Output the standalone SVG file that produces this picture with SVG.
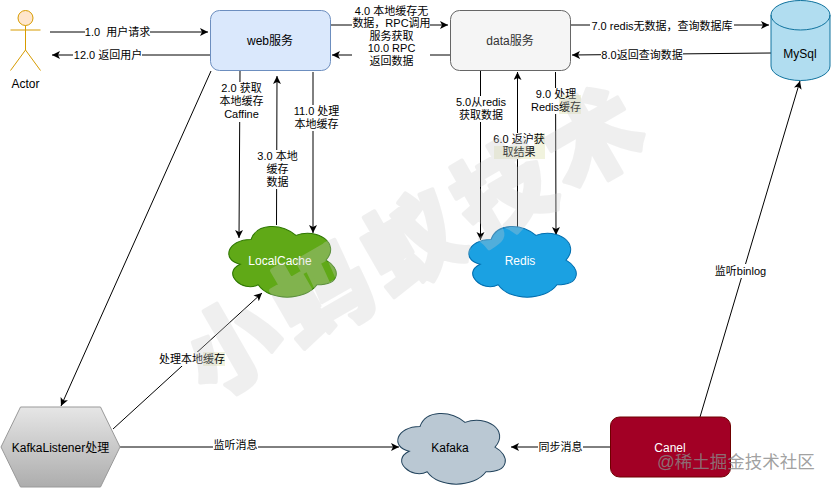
<svg xmlns="http://www.w3.org/2000/svg" width="831" height="488" viewBox="0 0 831 488">
<style>
text{font-family:"Liberation Sans","Noto Sans CJK SC",sans-serif;text-anchor:middle;font-size:11px;fill:#000}
.n{font-size:12px}
.w{fill:#fff}
.e{fill:none;stroke:#000;stroke-width:1;marker-end:url(#a)}
.bg{fill:#fff}
.hl{fill:#f1f3de}
</style>
<defs>
<marker id="a" markerUnits="userSpaceOnUse" markerWidth="10" markerHeight="10" refX="8" refY="4" orient="auto"><path d="M0 0L8 4L0 8L2 4Z" fill="#000"/></marker>
<linearGradient id="hx" x1="0" y1="0" x2="0" y2="1"><stop offset="0" stop-color="#e6e6e6"/><stop offset="1" stop-color="#adadad"/></linearGradient>
<path id="cloud" d="M30 16C6 16 0 36 19.2 40C0 48.800 21.600 68 37.200 60C48 76 84 76 96 60C120 60 120 44 105 36C120 20 96 4 75 12C60 0 36 0 30 16Z"/>
</defs>
<g id="connectors">
<path class="e" d="M50 32H208"/>
<path class="e" d="M210 55H52"/>
<path class="e" d="M330 25H448"/>
<path class="e" d="M450 55H332"/>
<path class="e" d="M240 71L239 238"/>
<path class="e" d="M276.500 225L277 76"/>
<path class="e" d="M313 72V233"/>
<path class="e" d="M480.500 71V240"/>
<path class="e" d="M517.500 228V72"/>
<path class="e" d="M555.500 72L556 235"/>
<path class="e" d="M570 25H769"/>
<path class="e" d="M771 53L572 55"/>
<path class="e" d="M211 71L61 406"/>
<path class="e" d="M113 429L262 293"/>
<path class="e" d="M120 447H399"/>
<path class="e" d="M610 447H511"/>
<path class="e" d="M700 417L800 81"/>
<rect class="bg" x="85" y="25" width="65" height="14"/>
<text x="117.500" y="36">1.0&#160;&#160;用户请求</text>
<rect class="bg" x="73" y="48" width="69" height="14"/>
<text x="108" y="59">12.0 返回用户</text>
<rect class="bg" x="352" y="3" width="78" height="64"/>
<text x="391.500" y="15">4.0 本地缓存无</text>
<text x="391.500" y="27">数据，RPC调用</text>
<text x="391.500" y="40">服务获取</text>
<text x="391.500" y="52">10.0 RPC</text>
<text x="391.500" y="65">返回数据</text>
<rect class="bg" x="218" y="82" width="46" height="40"/>
<text x="241.500" y="92">2.0 获取</text>
<text x="241.500" y="105">本地缓存</text>
<text x="241.500" y="118">Caffine</text>
<rect class="bg" x="256" y="150" width="42" height="39"/>
<text x="277.500" y="160">3.0 本地</text>
<text x="277.500" y="173">缓存</text>
<text x="277.500" y="186">数据</text>
<rect class="bg" x="294" y="105" width="45" height="26"/>
<text x="316.500" y="115">11.0 处理</text>
<text x="316.500" y="128">本地缓存</text>
<rect class="bg" x="456" y="96" width="50" height="26"/>
<text x="481" y="106">5.0从redis</text>
<text x="481" y="119">获取数据</text>
<rect class="bg" x="494" y="133" width="50" height="26"/>
<rect class="hl" x="534" y="133" width="11" height="13"/>
<rect class="hl" x="494" y="146" width="51" height="13"/>
<text x="519" y="143">6.0 返沪获</text>
<text x="519" y="156">取结果</text>
<rect class="bg" x="531" y="88" width="50" height="26"/>
<rect class="hl" x="559" y="95" width="22" height="19"/>
<text x="556" y="98">9.0 处理</text>
<text x="556" y="111">Redis缓存</text>
<rect class="bg" x="590" y="19" width="144" height="14"/>
<text x="662" y="30">7.0 redis无数据，查询数据库</text>
<rect class="bg" x="601" y="48" width="82" height="14"/>
<text x="642" y="59">8.0返回查询数据</text>
<rect class="bg" x="158" y="352" width="67" height="14"/>
<rect class="hl" x="203" y="352" width="22" height="14"/>
<text x="192" y="363">处理本地缓存</text>
<rect class="bg" x="213" y="438" width="45" height="14"/>
<text x="235.500" y="449">监听消息</text>
<rect class="bg" x="538" y="440" width="45" height="14"/>
<text x="560.500" y="451">同步消息</text>
<rect class="bg" x="714" y="264" width="53" height="14"/>
<text x="740.500" y="275">监听binlog</text>
</g>
<g id="actor" fill="#ffe6cc" stroke="#d79b00">
<circle cx="25.500" cy="18" r="7.500"/>
<path fill="none" d="M25.500 25.500V50M10.500 30H40.500M25.500 50L10.500 70.500M25.500 50L40.500 70.500"/>
<text class="n" x="25.500" y="88" stroke="none">Actor</text>
</g>
<g id="web"><rect x="210.500" y="10.500" width="120" height="60" rx="9" fill="#dae8fc" stroke="#6c8ebf"/><text class="n" x="270" y="45">web服务</text></g>
<g id="data"><rect x="450.500" y="10.500" width="120" height="60" rx="9" fill="#f5f5f5" stroke="#666"/><text class="n" x="510" y="45" style="fill:#333">data服务</text></g>
<g id="mysql"><path d="M771 15A29.500 14.500 0 0 1 830 15V66A29.500 14.500 0 0 1 771 66Z" fill="#b1ddf0" stroke="#10739e"/><path d="M771 15A29.500 15 0 0 0 830 15" fill="none" stroke="#10739e"/><text class="n" x="800" y="58">MySql</text></g>
<g id="localcache"><use href="#cloud" transform="translate(221 223) scale(1 1.03)" fill="#60a917" stroke="#2d7600"/><text class="n w" x="280" y="265">LocalCache</text></g>
<g id="redis"><use href="#cloud" transform="translate(461 223) scale(1 1.03)" fill="#1ba1e2" stroke="#006eaf"/><text class="n w" x="520" y="265">Redis</text></g>
<g id="kafaka"><use href="#cloud" transform="translate(390 410) scale(1 1.03)" fill="#bac8d3" stroke="#23445d"/><text class="n" x="450" y="452">Kafaka</text></g>
<g id="kafkalistener"><path d="M20.500 407H100.500L120 447L100.500 487H20.500L1 447Z" fill="url(#hx)" stroke="#999"/><text class="n" x="60.500" y="452">KafkaListener处理</text></g>
<g id="canel"><rect x="610.500" y="417" width="120" height="60" rx="9" fill="#a20025" stroke="#6f0000"/><text class="n w" x="670" y="452">Canel</text></g>
<g id="watermark">
<text x="417" y="275" transform="rotate(-30 417 241)" style="font-size:95px;letter-spacing:9px;font-weight:900;fill:#cdcdcd;stroke:#cdcdcd;stroke-width:4px;stroke-linejoin:round;opacity:.3">小蚂蚁技术</text>
<text x="736" y="467.500" style="font-size:17.500px;fill:#888;fill-opacity:.8">@稀土掘金技术社区</text>
</g>
</svg>
